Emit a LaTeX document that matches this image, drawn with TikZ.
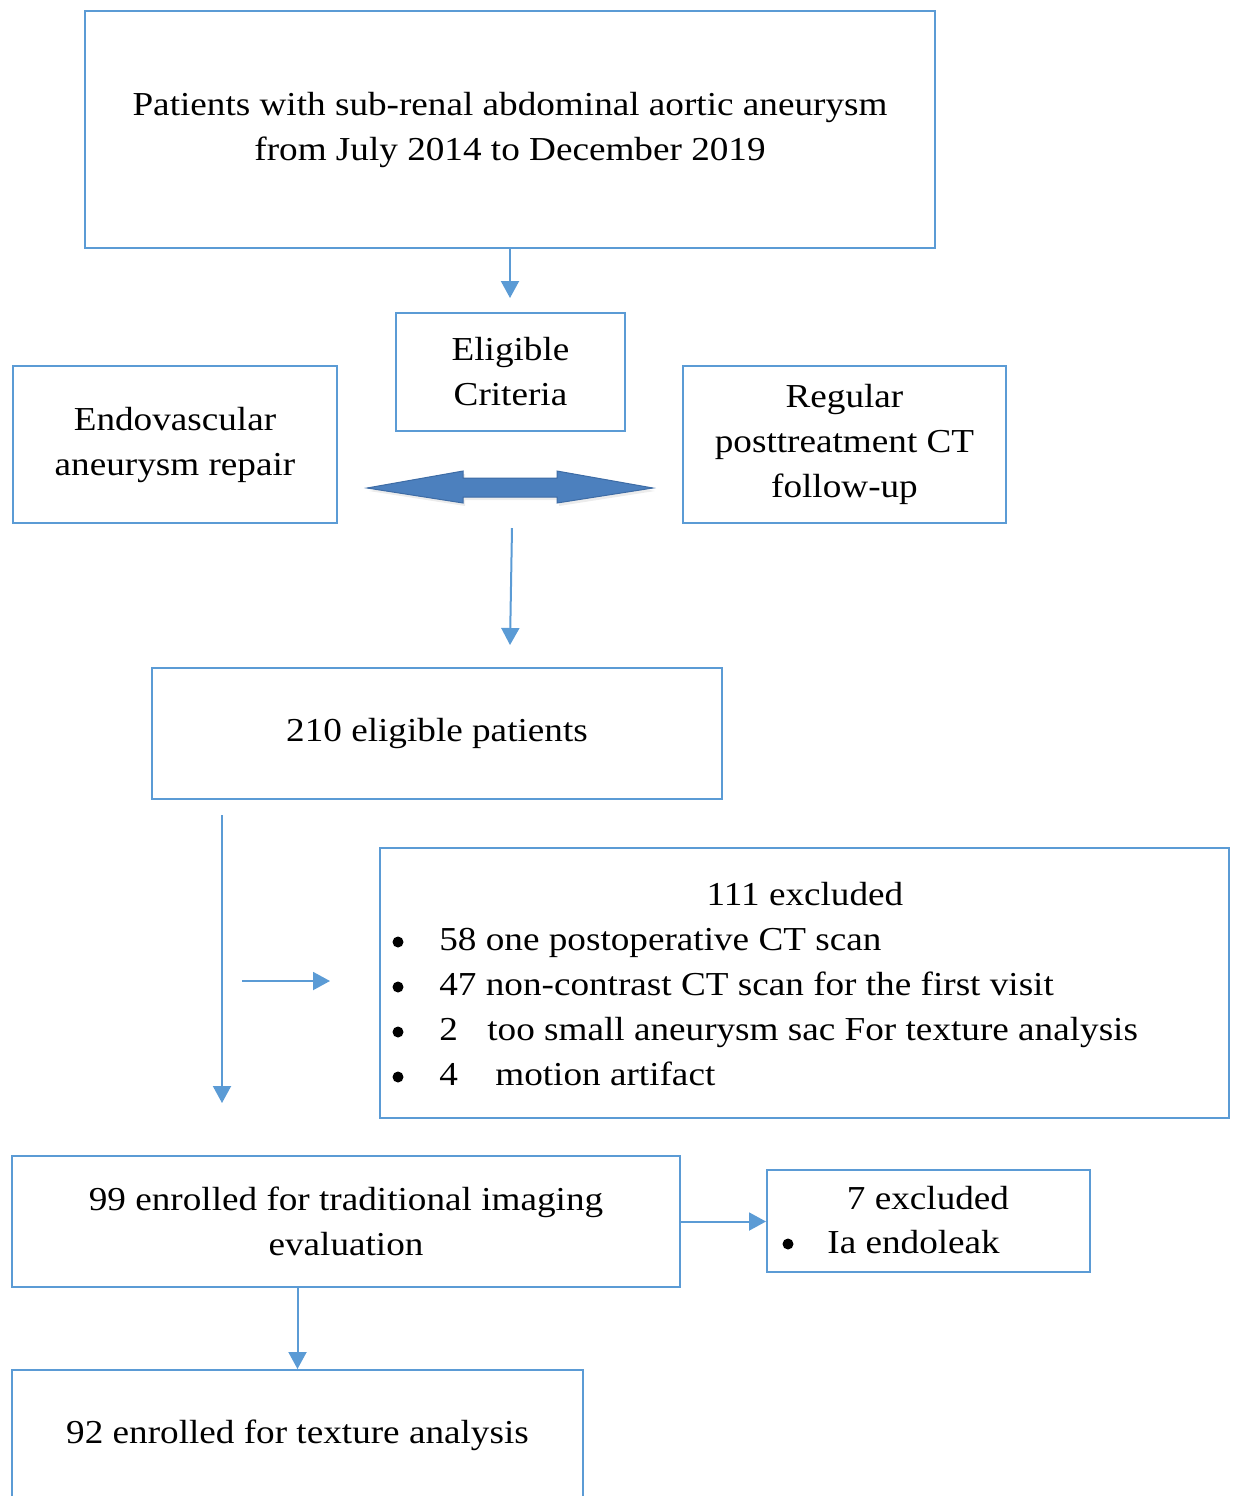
\documentclass[tikz,border=0pt]{standalone}
\usepackage{fontspec}
\setmainfont{Liberation Serif}[FakeStretch=1.11]
\usetikzlibrary{arrows.meta}
\definecolor{boxblue}{RGB}{91,155,213}
\definecolor{arrfill}{RGB}{76,128,190}
\definecolor{arredge}{RGB}{62,108,165}
\begin{document}
\begin{tikzpicture}[x=0.5pt,y=-0.5pt,
  box/.style={draw=boxblue,line width=1pt,inner sep=0pt,align=center,
    font=\fontsize{16.75pt}{22.5pt}\selectfont},
  txt/.style={inner sep=0pt,anchor=base west,font=\fontsize{16.75pt}{22.5pt}\selectfont},
  ctxt/.style={inner sep=0pt,anchor=base,font=\fontsize{16.75pt}{22.5pt}\selectfont},
  dot/.style={circle,fill=black,inner sep=0pt,minimum size=5.5pt},
  flow/.style={draw=boxblue,line width=1pt,-{Triangle[length=8.5pt,width=9pt]}}]
\useasboundingbox (0,0) rectangle (1235,1496);

% boxes
\node[box,minimum width=425pt,minimum height=118.5pt] (top) at (510,129.5)
  {Patients with sub-renal abdominal aortic aneurysm\\from July 2014 to December 2019};
\node[box,minimum width=114.5pt,minimum height=59pt] (elig) at (510.5,372)
  {Eligible\\Criteria};
\node[box,minimum width=162pt,minimum height=78.5pt] (endo) at (175,444.5)
  {Endovascular\\aneurysm repair};
\node[box,minimum width=161.5pt,minimum height=78.5pt] (reg) at (844.5,444.5)
  {Regular\\posttreatment CT\\follow-up};
\node[box,minimum width=285pt,minimum height=65.5pt] (b210) at (437,733.5)
  {210 eligible patients};
\node[box,minimum width=424.5pt,minimum height=135pt] (b111) at (804.5,983) {};
\node[box,minimum width=334pt,minimum height=65.5pt] (b99) at (346,1221.5)
  {99 enrolled for traditional imaging\\evaluation};
\node[box,minimum width=161.5pt,minimum height=51pt] (b7) at (928.5,1221) {};
\node[box,minimum width=285.5pt,minimum height=65pt] (b92) at (297.5,1435)
  {92 enrolled for texture analysis};

% texts of the exclusion boxes
\node[ctxt] (h111) at (805,905) {111 excluded};
\node[dot] (u1) at (398,942) {};
\node[dot] (u2) at (398,987) {};
\node[dot] (u3) at (398,1032) {};
\node[dot] (u4) at (398,1077) {};
\node[txt] (t1) at (439,950) {58 one postoperative CT scan};
\node[txt] (t2) at (439,995) {47 non-contrast CT scan for the first visit};
\node[txt] (t3) at (439,1040) {2\hspace{14.7pt}too small aneurysm sac For texture analysis};
\node[txt] (t4) at (439,1085) {4\hspace{18.7pt}motion artifact};
\node[ctxt] (h7) at (928,1209) {7 excluded};
\node[dot] (u7) at (788,1244) {};
\node[txt] (t7) at (827,1253) {Ia endoleak};

% double arrow
\fill[gray!30,opacity=0.5] (369,491) -- (465,474) -- (465,481) -- (559,481) -- (559,474)
  -- (655,491) -- (559,506) -- (559,500) -- (465,500) -- (465,506) -- cycle;
\filldraw[fill=arrfill,draw=arredge,line width=0.5pt,line join=miter]
  (367,488) -- (463,471) -- (463,478) -- (557,478) -- (557,471)
  -- (653,488) -- (557,503) -- (557,497) -- (463,497) -- (463,503) -- cycle;

% connectors
\coordinate (a1e) at (510,298);
\coordinate (a2s) at (512,528);
\coordinate (a2e) at (510,645);
\coordinate (a3s) at (222,815);
\coordinate (a3e) at (222,1103);
\coordinate (a4s) at (242,981);
\coordinate (a4e) at (330,981);
\draw[flow] (top.south) -- (a1e);
\draw[flow] (a2s) -- (a2e);
\draw[flow] (a3s) -- (a3e);
\draw[flow] (a4s) -- (a4e);
\draw[flow] (b99.east) -- (b99.east -| b7.west);
\draw[flow] (b92.north |- b99.south) -- (b92.north);
\end{tikzpicture}
\end{document}
